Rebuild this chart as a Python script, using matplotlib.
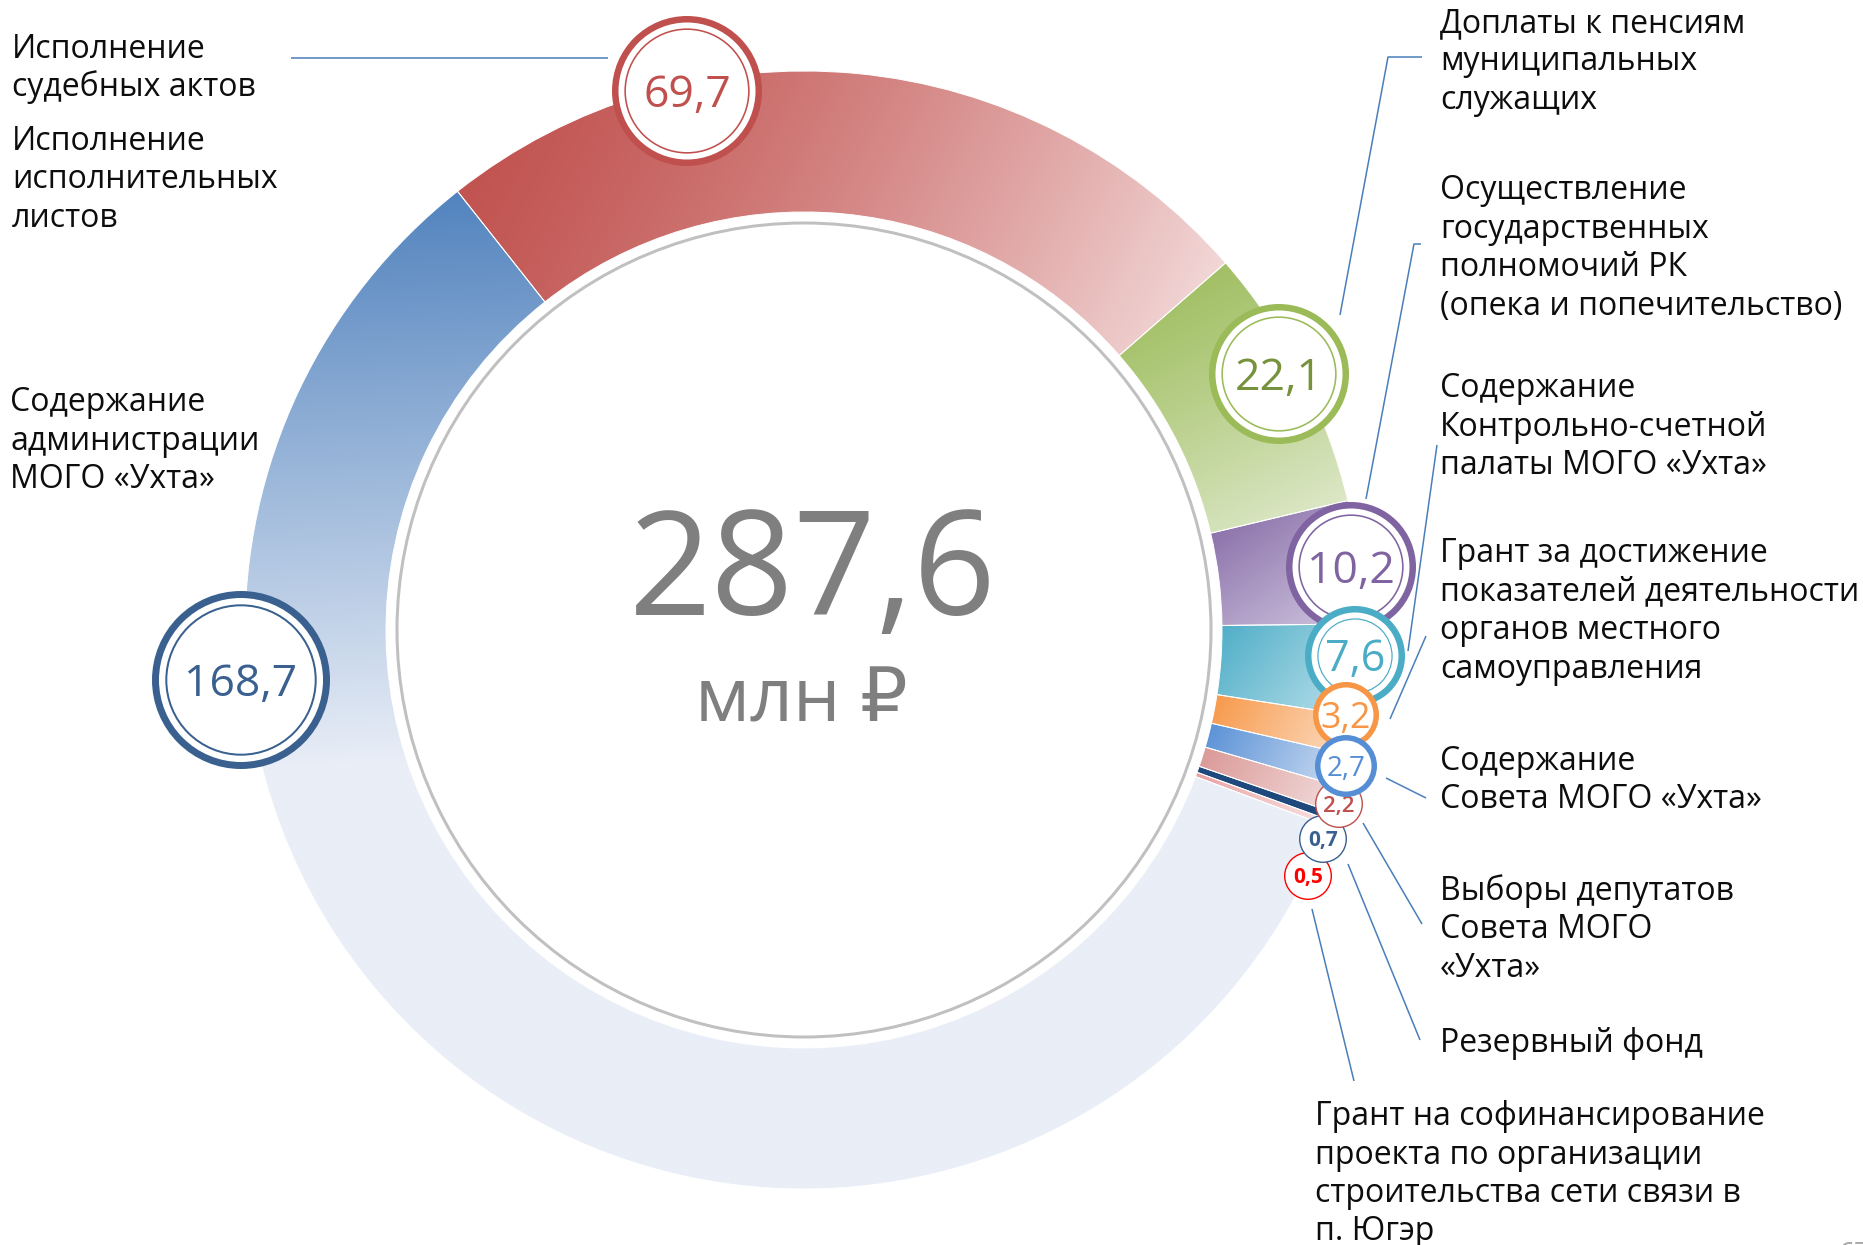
import numpy as np
import matplotlib.pyplot as plt
from matplotlib.patches import Wedge, Circle
from matplotlib.colors import to_rgb

plt.rcParams['font.family'] = ['Open Sans', 'DejaVu Sans']

# расходы, млн руб. (по часовой стрелке, начиная с красного сектора)
values = [69.7, 22.1, 10.2, 7.6, 3.2, 2.7, 2.2, 0.7, 0.5, 168.7]
value_labels = ['69,7', '22,1', '10,2', '7,6', '3,2', '2,7', '2,2', '0,7', '0,5', '168,7']
total_label = '287,6'
unit_label = 'млн ₽'

dark_colors = ['#C0504D', '#9BBB59', '#8064A2', '#4BACC6', '#F79646',
               '#558ED5', '#D99694', '#1F497D', '#E8A0A0', '#4F81BD']
light_colors = ['#F6E2E2', '#E4EDD4', '#D4CAE2', '#C4E5EE', '#FDE2CB',
                '#D5E2F4', '#F3E0E0', '#1F497D', '#FBE6E6', '#E9EEF7']
bubble_colors = ['#C0504D', '#9BBB59', '#8064A2', '#4BACC6', '#F79646',
                 '#558ED5', '#C0504D', '#3A6090', '#FF0000', '#3A6090']
text_colors = ['#C0504D', '#76923C', '#8064A2', '#4BACC6', '#F79646',
               '#558ED5', '#C0504D', '#3A6090', '#FF0000', '#3A6090']

label_texts = [
    'Исполнение\nсудебных актов',
    'Исполнение\nисполнительных\nлистов',
    'Содержание\nадминистрации\nМОГО «Ухта»',
    'Доплаты к пенсиям\nмуниципальных\nслужащих',
    'Осуществление\nгосударственных\nполномочий РК\n(опека и попечительство)',
    'Содержание\nКонтрольно-счетной\nпалаты МОГО «Ухта»',
    'Грант за достижение\nпоказателей деятельности\nорганов местного\nсамоуправления',
    'Содержание\nСовета МОГО «Ухта»',
    'Выборы депутатов\nСовета МОГО\n«Ухта»',
    'Резервный фонд',
    'Грант на софинансирование\nпроекта по организации\nстроительства сети связи в\nп. Югэр',
]

# layout, pixels
W, H = 1863, 1245
cx, cy = 804, 630
r_out, r_in, r_core = 559, 418, 407
start_angle = -38.3          # degrees clockwise from 12 o'clock
grad_dirs = [(1, 0.5), (0.5, 1), (0.7, 1), (1, 0.8), (1, 0.5),
             (1, 0.5), (1, 0.5), (1, 0.5), (1, 0.5), (0.05, 1)]
grad_stops = [1, 1, 1, 1, 1, 1, 1, 1, 1, 0.55]
grad_gamma = [1.4, 1.2, 1, 1, 1, 1, 1, 1, 1, 1]

# bubble: x, y, radius, outer ring px, inner ring px, font pt, weight, zorder
bubbles = [
    (687, 91, 75, 6.5, 1.6, 32, 'normal', 10),
    (1279, 374, 70, 6.5, 1.6, 32, 'normal', 10),
    (1351, 567, 65, 6.5, 1.6, 32, 'normal', 10),
    (1355, 656, 50, 6.5, 1.2, 31, 'normal', 11),
    (1346, 715, 33, 5.5, 0, 26, 'normal', 12),
    (1346, 766, 31, 5.5, 0, 20, 'normal', 16),
    (1339, 804, 24, 1.4, 0, 16, 'semibold', 15),
    (1323, 839, 24, 1.4, 0, 15, 'bold', 14),
    (1308, 876, 24, 1.4, 0, 15, 'bold', 13),
    (241, 680, 89, 7, 2, 32, 'normal', 10),
]

label_pos = [(12, 49), (12, 141), (10, 402), (1440, 23), (1440, 190), (1440, 388),
             (1440, 553), (1440, 761), (1440, 891), (1440, 1043), (1315, 1116)]
line_step = 38.5

leaders = [
    [(291, 58), (608, 58)],
    [(1340, 315), (1388, 57), (1422, 57)],
    [(1366, 499), (1414, 244), (1421, 244)],
    [(1408, 651), (1437, 445)],
    [(1390, 719), (1426, 636)],
    [(1386, 778), (1426, 798)],
    [(1363, 823), (1422, 924)],
    [(1348, 864), (1420, 1040)],
    [(1312, 909), (1354, 1081)],
]

PX = 0.72  # points per pixel at dpi 100

fig = plt.figure(figsize=(W / 100, H / 100), dpi=100)
ax = fig.add_axes([0, 0, 1, 1])
ax.set_xlim(0, W)
ax.set_ylim(H, 0)
ax.axis('off')


def gradient_wedge(a1, a2, c0, c1, direction, stop, gamma):
    wedge = Wedge((cx, cy), r_out, a1 - 90, a2 - 90, width=r_out - r_in,
                  facecolor='none', edgecolor='none')
    ax.add_patch(wedge)
    ang = np.radians(np.linspace(a1, a2, 200))
    xs = np.concatenate([cx + r_out * np.sin(ang), cx + r_in * np.sin(ang)])
    ys = np.concatenate([cy - r_out * np.cos(ang), cy - r_in * np.cos(ang)])
    x0, x1, y0, y1 = xs.min() - 2, xs.max() + 2, ys.min() - 2, ys.max() + 2
    n = 300
    X, Y = np.meshgrid(np.linspace(x0, x1, n), np.linspace(y0, y1, n))
    dx, dy = direction
    proj = (X - x0) * dx + (Y - y0) * dy
    t = (proj - proj.min()) / max(proj.max() - proj.min(), 1e-9)
    t = (np.clip(t / stop, 0, 1) ** gamma)[..., None]
    img = np.array(to_rgb(c0)) * (1 - t) + np.array(to_rgb(c1)) * t
    im = ax.imshow(img, extent=(x0, x1, y1, y0), origin='upper',
                   interpolation='bilinear', zorder=2)
    im.set_clip_path(wedge)
    ax.add_patch(Wedge((cx, cy), r_out, a1 - 90, a2 - 90, width=r_out - r_in,
                       facecolor='none', edgecolor='white', lw=0.7, zorder=3))


total = sum(values)
a = start_angle
for v, c0, c1, d, s, g in zip(values, dark_colors, light_colors,
                              grad_dirs, grad_stops, grad_gamma):
    span = v / total * 360
    gradient_wedge(a, a + span, c0, c1, d, s, g)
    a += span

ax.add_patch(Circle((cx, cy), r_core, facecolor='white', edgecolor='#C0C0C0',
                    lw=3 * PX, zorder=4))

ax.text(813, 615, total_label, fontsize=104, color='#7F7F7F', ha='center',
        va='baseline', zorder=5)
ax.text(801, 722, unit_label, fontsize=54, color='#7F7F7F', ha='center',
        va='baseline', zorder=5)

for pts in leaders:
    xs, ys = zip(*pts)
    ax.plot(xs, ys, color='#4A7EBB', lw=1.1, zorder=6, solid_capstyle='butt')

for (x, y, r, ring, inner, fs, wt, z), lab, col, tcol in zip(
        bubbles, value_labels, bubble_colors, text_colors):
    ax.add_patch(Circle((x, y), r - ring / 2, facecolor='white', edgecolor=col,
                        lw=ring * PX, zorder=z))
    if inner:
        gap = ring * 0.9
        ax.add_patch(Circle((x, y), r - ring - gap - inner / 2, fill=False,
                            edgecolor=col, lw=inner * PX, zorder=z))
    ax.text(x, y + 0.357 * fs / PX, lab, fontsize=fs, fontweight=wt, color=tcol,
            ha='center', va='baseline', zorder=z)

for txt, (x, y) in zip(label_texts, label_pos):
    for i, line in enumerate(txt.split('\n')):
        ax.text(x, y + 9 + i * line_step, line, fontsize=23, color='#0D0D0D',
                ha='left', va='baseline', zorder=7)

# номер страницы, обрезанный краем слайда
ax.text(1838, 1262, '67', fontsize=20, color='#A6A6A6', ha='left', va='baseline')

fig.savefig('out.png', dpi=100)
